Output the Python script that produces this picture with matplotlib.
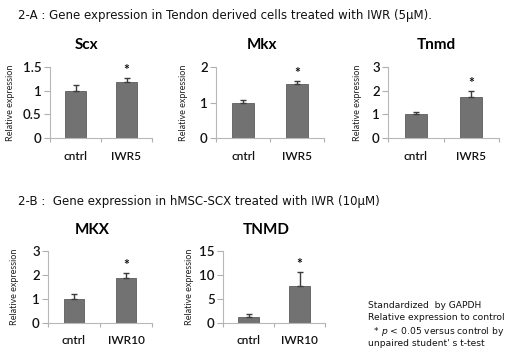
import matplotlib
matplotlib.use("Agg")
import matplotlib.pyplot as plt

plt.rcParams['font.family'] = ['Lato', 'DejaVu Sans']

groups_a = ["cntrl", "IWR5"]
groups_b = ["cntrl", "IWR10"]

scx_mean = [1.0, 1.19]
scx_err = [0.11, 0.07]
mkx_mean = [1.0, 1.53]
mkx_err = [0.07, 0.07]
tnmd_mean = [1.0, 1.74]
tnmd_err = [0.1, 0.24]
MKX_mean = [0.99, 1.88]
MKX_err = [0.2, 0.2]
TNMD_mean = [1.05, 7.7]
TNMD_err = [0.75, 2.9]

# name, labels, means, errs, ymax, yticks, tick labels, axes box (px), title pos, ylabel x
panels = [
    ("Scx", groups_a, scx_mean, scx_err, 1.5, [0, 0.5, 1, 1.5], ["0", "0.5", "1", "1.5"], (50, 152, 67, 138), (87, 45), 11),
    ("Mkx", groups_a, mkx_mean, mkx_err, 2, [0, 1, 2], ["0", "1", "2"], (216, 324, 67, 138), (262, 45), 184),
    ("Tnmd", groups_a, tnmd_mean, tnmd_err, 3, [0, 1, 2, 3], ["0", "1", "2", "3"], (388, 499, 67, 138), (436, 45), 358),
    ("MKX", groups_b, MKX_mean, MKX_err, 3, [0, 1, 2, 3], ["0", "1", "2", "3"], (48, 152, 251, 322.5), (92, 230), 15),
    ("TNMD", groups_b, TNMD_mean, TNMD_err, 15, [0, 5, 10, 15], ["0", "5", "10", "15"], (223, 325, 251, 322.5), (266, 230), 190),
]

W, H = 517, 360
fig = plt.figure(figsize=(W / 100, H / 100), dpi=100)

for name, labels, means, errs, ymax, yt, ytl, box, tpos, ylx in panels:
    x0, x1, y0, y1 = box
    ax = fig.add_axes([x0 / W, 1 - y1 / H, (x1 - x0) / W, (y1 - y0) / H])
    xs = list(range(len(labels)))
    ax.bar(xs, means, width=0.4, color="#727272", edgecolor="#5c5c5c", linewidth=0.6, zorder=2)
    ax.errorbar(xs, means, yerr=[[0, 0], errs], fmt="none", ecolor="#3c3c3c",
                elinewidth=1.0, capsize=2.5, capthick=1.0, zorder=3)
    ax.annotate("*", xy=(1, means[1] + errs[1]), xytext=(0, 1.5), textcoords="offset points",
                ha="center", va="bottom", fontsize=10, fontweight="bold", color="#111111")
    ax.set_xlim(-0.5, 1.5)
    ax.set_ylim(0, ymax)
    ax.set_yticks(yt)
    ax.set_yticklabels(ytl)
    ax.set_xticks([-0.5, 0.5, 1.5], minor=False)
    ax.set_xticklabels([])
    ax.set_xticks(xs, minor=True)
    ax.set_xticklabels(labels, minor=True)
    ax.tick_params(axis="x", which="major", length=3, color="#b0b0b0", width=0.8)
    ax.tick_params(axis="x", which="minor", length=0, labelsize=8.5, pad=9, colors="#111111")
    ax.tick_params(axis="y", length=4, color="#b0b0b0", width=0.8, labelsize=9.5, pad=2, colors="#111111")
    for lbl in ax.get_yticklabels() + ax.get_xticklabels(minor=True):
        lbl.set_fontweight("semibold")
    ax.tick_params(axis="y", colors="#b0b0b0")
    for lbl in ax.get_yticklabels():
        lbl.set_color("#111111")
    for s in ["top", "right"]:
        ax.spines[s].set_visible(False)
    for s in ["left", "bottom"]:
        ax.spines[s].set_color("#b8b8b8")
        ax.spines[s].set_linewidth(0.8)
    fig.text(tpos[0] / W, 1 - tpos[1] / H, name, ha="center", va="center",
             fontsize=11, fontweight="bold")
    fig.text(ylx / W, 1 - (y0 + y1) / 2 / H, "Relative expression", rotation=90,
             ha="center", va="center", fontsize=6.5, color="#222222")

fig.text(18 / W, 1 - 15 / H, "2-A : Gene expression in Tendon derived cells treated with IWR (5μM).",
         ha="left", va="center", fontsize=8.5, family="DejaVu Sans", color="#111111")
fig.text(18 / W, 1 - 201 / H, "2-B :  Gene expression in hMSC-SCX treated with IWR (10μM)",
         ha="left", va="center", fontsize=8.5, family="DejaVu Sans", color="#111111")

notes = ["Standardized  by GAPDH", "Relative expression to control",
         "  * $p$ < 0.05 versus control by", "unpaired student' s t-test"]
note_y = [306, 318, 331, 344]
for t, yy in zip(notes, note_y):
    fig.text(368 / W, 1 - yy / H, t, ha="left", va="center", fontsize=6.6,
             family="DejaVu Sans", color="#111111")

fig.savefig("out.png", dpi=100)
